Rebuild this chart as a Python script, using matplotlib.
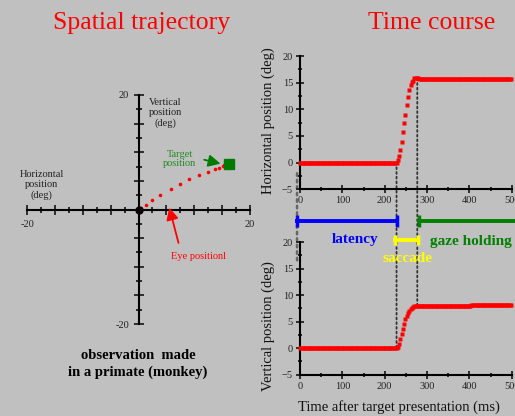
import numpy as np
import matplotlib
matplotlib.use("Agg")
import matplotlib.pyplot as plt
from matplotlib.patches import ConnectionPatch
from matplotlib.ticker import MultipleLocator, FuncFormatter

plt.rcParams['font.family'] = ['Liberation Serif', 'DejaVu Serif']

# eye position samples (3 ms sampling)
t_fix = np.arange(0, 228, 3)
t_sacc = np.arange(228, 282, 3)
t_hold = np.arange(282, 501, 3)
h_fix = 0.0
h_sacc = [0.0, 0.5, 1.3, 2.4, 3.8, 5.8, 7.4, 9.0, 10.9, 12.4, 13.7, 14.5, 15.1, 15.4, 15.8, 15.9, 15.9, 15.8]
h_hold = 15.7
v_fix = 0.0
v_sacc = [0.0, 0.3, 0.8, 1.7, 2.6, 3.6, 4.5, 5.4, 6.0, 6.6, 7.0, 7.3, 7.6, 7.8, 7.9, 8.0, 8.0, 8.0]
v_hold_early = 7.9
v_hold_late = 8.1
v_step_time = 405

target = (16.3, 8.0)
saccade_start = 228
saccade_end = 277

t = np.concatenate([t_fix, t_sacc, t_hold])
h = np.concatenate([np.full(len(t_fix), h_fix), h_sacc, np.full(len(t_hold), h_hold)])
v = np.concatenate([np.full(len(t_fix), v_fix), v_sacc,
                    np.where(t_hold < v_step_time, v_hold_early, v_hold_late)])

bg = '#c0c0c0'
red = '#ff0000'
fig = plt.figure(figsize=(5.15, 4.16), dpi=100, facecolor=bg)

fig.text(142/515, 1-29/416, 'Spatial trajectory', color=red, fontsize=18.5, ha='center', va='baseline')
fig.text(432/515, 1-29/416, 'Time course', color=red, fontsize=18.5, ha='center', va='baseline')

# ---- spatial trajectory
ax0 = fig.add_axes([27/515, 1-324/416, 223/515, 229/416])
ax0.set_facecolor('none')
ax0.set_xlim(-20, 20)
ax0.set_ylim(-20, 20)
for s in ['top', 'right']:
    ax0.spines[s].set_visible(False)
for s in ['left', 'bottom']:
    ax0.spines[s].set_position('zero')
    ax0.spines[s].set_linewidth(1.5)
for axis in [ax0.xaxis, ax0.yaxis]:
    axis.set_major_locator(MultipleLocator(5))
    axis.set_minor_locator(MultipleLocator(2.5))
    axis.set_major_formatter(FuncFormatter(lambda x, p: '%d' % x if abs(x) == 20 else ''))
ax0.tick_params(which='major', direction='inout', length=6.5, width=1.3, labelsize=7.5, colors='#222')
ax0.tick_params(which='minor', direction='inout', length=4, width=1.1)
ax0.xaxis.set_tick_params(pad=4)

ax0.plot(h, v, 'o', color=red, ms=2.6, mec='none', clip_on=False, zorder=3)
ax0.plot([0], [0], 'o', color='black', ms=5, zorder=4)
ax0.plot([target[0]], [target[1]], 's', color='#007a00', ms=7, zorder=5)
ax0.annotate('', xy=(15.2, 7.9), xytext=(11.3, 8.8),
             arrowprops=dict(arrowstyle='-|>', color='#007a00', lw=1.3, mutation_scale=18))
ax0.annotate('', xy=(5.4, 0.8), xytext=(7.3, -6.3),
             arrowprops=dict(arrowstyle='-|>', color=red, lw=1.3, mutation_scale=18))
ax0.text(7.4, 8.8, 'Target\nposition', color='#228b22', fontsize=7.5, ha='center', va='center', linespacing=1.1)
ax0.text(10.8, -8.2, 'Eye positionl', color=red, fontsize=7.5, ha='center', va='center')
ax0.text(4.8, 16.9, 'Vertical\nposition\n(deg)', color='#222', fontsize=7.5, ha='center', va='center', linespacing=1.15)
ax0.text(-17.4, 4.3, 'Horizontal\nposition\n(deg)', color='#222', fontsize=7.5, ha='center', va='center', linespacing=1.15)

fig.text(138/515, 1-364/416, 'observation  made\nin a primate (monkey)', fontsize=10.5,
         fontweight='bold', ha='center', va='center', linespacing=1.3)

# ---- time course
ax1 = fig.add_axes([300/515, 1-189.3/416, 211.7/515, 133.3/416])
ax2 = fig.add_axes([300/515, 1-374.7/416, 211.7/515, 132.7/416])
for ax, y in [(ax1, h), (ax2, v)]:
    ax.set_facecolor('none')
    ax.set_xlim(0, 500)
    ax.set_ylim(-5, 20)
    for s in ['top', 'right']:
        ax.spines[s].set_visible(False)
    for s in ['left', 'bottom']:
        ax.spines[s].set_linewidth(1.5)
    ax.xaxis.set_major_locator(MultipleLocator(100))
    ax.xaxis.set_minor_locator(MultipleLocator(50))
    ax.yaxis.set_major_locator(MultipleLocator(5))
    ax.yaxis.set_minor_locator(MultipleLocator(2.5))
    ax.tick_params(which='major', direction='inout', length=6, width=1.3, labelsize=7.5, colors='#222', pad=2)
    ax.tick_params(which='minor', direction='inout', length=3.5, width=1.1)
    ax.plot(t, y, 's', color=red, ms=2.4, mec='none', clip_on=False, zorder=3)

fig.text(268/515, 1-121/416, 'Horizontal position (deg)', fontsize=10.5, rotation=90, ha='center', va='center', color='#111')
fig.text(268/515, 1-326/416, 'Vertical position (deg)', fontsize=10.5, rotation=90, ha='center', va='center', color='#111')
fig.text(399/515, 1-407/416, 'Time after target presentation (ms)', fontsize=10.5, ha='center', va='center', color='#111')

dot = (0, (1, 1.6))
for xa, ya, yb, col in [(saccade_start, 0, 0, '#333'), (saccade_end, 15.8, 7.8, '#333'), (-7, -2, 16, '#666')]:
    con = ConnectionPatch(xyA=(xa, ya), coordsA=ax1.transData, xyB=(xa, yb), coordsB=ax2.transData,
                          linestyle=dot, color=col, lw=1.3 if col == '#333' else 1.8, zorder=-1)
    fig.add_artist(con)

ax2.plot([-7, saccade_start], [24, 24], color='#0000ff', lw=2.8, marker='|', ms=9, mew=2.5, clip_on=False)
ax2.plot([saccade_start - 4, saccade_end + 2], [20.4, 20.4], color='#ffff00', lw=2.8, marker='|', ms=7, mew=2.5, clip_on=False)
ax2.plot([saccade_end + 3, 540], [24, 24], color='#008000', lw=2.8, marker='|', ms=9, mew=2.5,
         markevery=[0], clip_on=False)
ax2.text(130, 20.4, 'latency', color='#0000ff', fontsize=11, fontweight='bold', ha='center', va='center')
ax2.text(404, 20.0, 'gaze holding', color='#008000', fontsize=11, fontweight='bold', ha='center', va='center')
ax2.text(255, 16.8, 'saccade', color='#ffff00', fontsize=11, fontweight='bold', ha='center', va='center')

fig.savefig('out.png', dpi=100, facecolor=bg)
